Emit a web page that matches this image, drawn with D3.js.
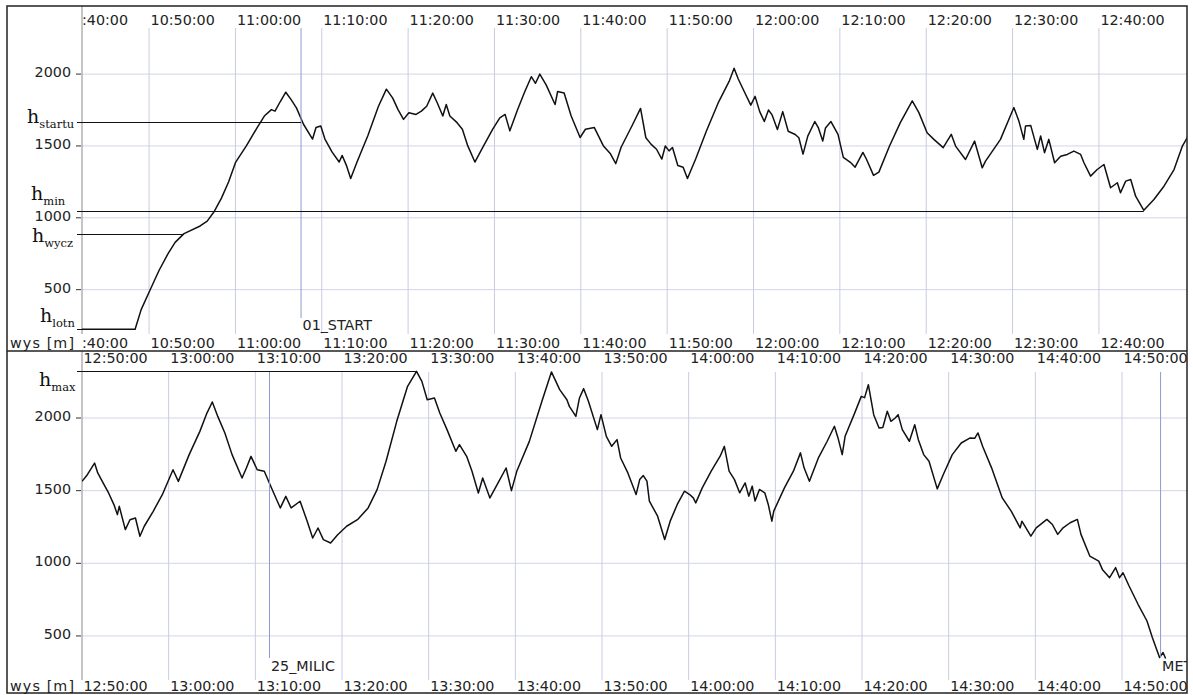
<!DOCTYPE html>
<html>
<head>
<meta charset="utf-8">
<script src="https://cdn.jsdelivr.net/npm/d3@7"></script>
<style>
body { margin: 0; background: #fff; }
text { font-family: "DejaVu Sans", sans-serif; fill: #222; }
</style>
</head>
<body>
<div id="chart"></div>
<script>
// altitude trace, first half (10:42 - 12:50)
var topTimes = ["10:42:00","10:48:23","10:49:05","10:50:07","10:51:10","10:52:11","10:53:01","10:54:03","10:55:55","10:56:44",
  "10:57:34","10:58:23","10:59:13","11:00:02","11:01:17","11:02:31","11:03:21","11:04:10","11:04:35","11:05:13",
  "11:05:50","11:06:27","11:07:04","11:07:53","11:08:56","11:09:20","11:09:53","11:10:22","11:11:12","11:12:01",
  "11:12:22","11:12:51","11:13:21","11:14:05","11:15:20","11:16:34","11:17:29","11:18:13","11:18:50","11:19:28",
  "11:20:05","11:20:55","11:21:32","11:22:09","11:22:51","11:23:23","11:24:01","11:24:25","11:24:50","11:25:40",
  "11:26:17","11:26:54","11:27:44","11:28:33","11:29:47","11:30:37","11:31:14","11:31:47","11:32:41","11:33:31",
  "11:34:16","11:34:45","11:35:15","11:35:59","11:37:01","11:37:19","11:38:04","11:38:53","11:39:55","11:40:32",
  "11:41:34","11:42:36","11:43:26","11:44:03","11:44:40","11:45:55","11:46:55","11:47:32","11:48:09","11:48:46",
  "11:49:23","11:49:47","11:50:13","11:50:37","11:51:14","11:51:51","11:52:21","11:53:18","11:54:32","11:55:58",
  "11:57:13","11:57:45","11:58:14","11:58:52","11:59:41","12:00:11","12:00:43","12:01:15","12:01:44","12:02:09",
  "12:02:46","12:03:23","12:04:01","12:04:50","12:05:15","12:05:44","12:06:17","12:07:06","12:07:31","12:08:01",
  "12:08:20","12:08:58","12:09:47","12:10:24","12:11:13","12:11:46","12:12:40","12:13:04","12:13:54","12:14:31",
  "12:15:45","12:17:00","12:18:23","12:19:09","12:20:06","12:20:53","12:21:58","12:22:54","12:23:24","12:24:33",
  "12:25:36","12:26:29","12:26:52","12:28:36","12:30:09","12:30:44","12:31:18","12:31:30","12:32:06","12:32:52",
  "12:33:15","12:33:42","12:34:12","12:34:52","12:35:34","12:36:20","12:37:06","12:37:53","12:38:16","12:39:02",
  "12:39:48","12:40:35","12:41:21","12:42:08","12:42:30","12:43:06","12:43:41","12:44:15","12:45:12","12:46:22",
  "12:47:32","12:48:42","12:49:40","12:50:14","12:50:30"];
var topAlt = [225,225,361,498,635,749,829,890,943,977,
  1046,1137,1251,1388,1502,1628,1708,1753,1742,1811,
  1874,1822,1765,1651,1548,1628,1639,1548,1457,1388,
  1434,1365,1274,1388,1571,1776,1895,1833,1753,1685,
  1731,1719,1742,1776,1868,1799,1708,1788,1708,1662,
  1616,1502,1388,1479,1616,1696,1719,1605,1753,1879,
  1982,1936,2000,1925,1788,1879,1868,1708,1559,1616,
  1628,1502,1445,1377,1491,1639,1761,1557,1511,1477,
  1409,1500,1466,1489,1364,1352,1273,1409,1602,1807,
  1955,2041,1966,1886,1784,1845,1739,1670,1750,1716,
  1614,1739,1602,1580,1557,1443,1568,1670,1625,1534,
  1625,1670,1580,1420,1386,1352,1455,1409,1295,1318,
  1500,1662,1813,1732,1592,1546,1488,1581,1499,1406,
  1534,1348,1394,1546,1767,1673,1546,1639,1643,1476,
  1569,1453,1546,1383,1429,1441,1464,1441,1383,1290,
  1336,1371,1209,1244,1174,1255,1267,1150,1052,1127,
  1220,1336,1499,1558,1590];

// altitude trace, second half (12:50 - 14:55)
var bottomTimes = ["12:50:00","12:50:37","12:51:27","12:51:49","12:52:26","12:53:04","12:53:41","12:54:05","12:54:18","12:55:00",
  "12:55:32","12:56:10","12:56:41","12:57:11","12:58:13","12:59:16","13:00:30","13:01:07","13:02:22","13:03:36",
  "13:04:25","13:05:02","13:05:40","13:06:29","13:07:19","13:08:28","13:08:58","13:09:30","13:10:13","13:11:02",
  "13:11:52","13:12:53","13:13:31","13:14:08","13:15:10","13:15:59","13:16:37","13:17:14","13:17:51","13:18:41",
  "13:19:30","13:20:32","13:21:47","13:23:01","13:24:03","13:25:05","13:26:19","13:27:34","13:28:36","13:29:13",
  "13:29:50","13:30:40","13:31:17","13:32:07","13:33:08","13:33:33","13:34:23","13:35:00","13:35:44","13:36:14",
  "13:37:04","13:38:06","13:38:56","13:39:33","13:40:10","13:41:37","13:43:04","13:44:10","13:45:07","13:45:57",
  "13:46:14","13:46:59","13:47:24","13:47:53","13:48:26","13:49:28","13:49:53","13:50:30","13:51:07","13:51:44",
  "13:52:09","13:52:59","13:53:56","13:54:21","13:54:46","13:55:11","13:55:28","13:56:25","13:57:14","13:57:52",
  "13:58:41","13:59:31","14:00:07","14:00:32","14:00:49","14:01:34","14:02:36","14:03:38","14:04:07","14:04:40",
  "14:05:17","14:05:53","14:06:31","14:06:56","14:07:20","14:07:40","14:08:10","14:08:47","14:09:11","14:09:36",
  "14:09:49","14:11:03","14:12:05","14:12:54","14:13:19","14:13:56","14:14:58","14:15:59","14:16:49","14:17:14",
  "14:17:43","14:18:03","14:19:05","14:19:55","14:20:18","14:20:44","14:21:21","14:21:58","14:22:24","14:22:55",
  "14:23:20","14:23:50","14:24:10","14:24:39","14:25:28","14:26:05","14:26:30","14:27:07","14:27:44","14:28:41",
  "14:29:23","14:30:25","14:31:27","14:32:29","14:33:00","14:33:23","14:33:55","14:34:57","14:36:11","14:37:13",
  "14:38:15","14:38:27","14:39:29","14:40:06","14:41:20","14:41:58","14:42:35","14:43:12","14:44:01","14:44:51",
  "14:45:16","14:46:17","14:47:19","14:47:44","14:48:34","14:49:16","14:49:43","14:50:07","14:50:49","14:51:51",
  "14:52:53","14:53:30","14:54:20","14:54:44","14:55:02"];
var bottomAlt = [1564,1610,1690,1622,1553,1484,1404,1335,1392,1232,
  1300,1312,1186,1255,1358,1472,1644,1564,1748,1908,
  2034,2110,2011,1897,1748,1587,1656,1736,1644,1633,
  1518,1381,1461,1381,1427,1289,1174,1243,1163,1140,
  1197,1255,1300,1381,1507,1702,1977,2218,2321,2252,
  2126,2138,2034,1920,1771,1817,1736,1633,1484,1587,
  1450,1564,1656,1500,1633,1839,2115,2317,2195,2126,
  2080,2011,2138,2202,2115,1920,2023,1874,1805,1851,
  1725,1622,1473,1576,1604,1565,1428,1324,1164,1290,
  1405,1496,1473,1450,1416,1519,1634,1737,1805,1634,
  1576,1485,1553,1462,1531,1428,1508,1485,1405,1290,
  1359,1519,1634,1760,1657,1565,1725,1840,1943,1863,
  1748,1874,2023,2149,2140,2229,2023,1931,1935,2046,
  1977,2000,2023,1920,1840,1954,1851,1748,1702,1512,
  1611,1748,1828,1863,1860,1897,1805,1657,1450,1359,
  1244,1290,1187,1244,1302,1267,1199,1244,1279,1302,
  1199,1050,1015,958,901,970,901,935,844,718,
  603,489,351,386,345];

var altTicks = [500, 1000, 1500, 2000];

// reference heights: subscript name, value [m], time where the line ends
var refNames = ["startu", "min", "wycz", "lotn", "max"];
var refValues = [1670, 1050, 885, 225, 2325];
var refEnds = ["11:07:36", "12:45:12", "10:53:55", "10:48:23", "13:28:36"];
var refPanel = [0, 0, 0, 0, 1];

// turnpoints
var markerNames = ["01_START", "25_MILIC", "MET"];
var markerTimes = ["11:07:36", "13:11:38", "14:54:27"];
var markerPanel = [0, 1, 1];

function init() {
    var w = 1193, h = 695;
    var left = 82, right = 1187;
    var fs = "14.3px";
    var parse = d3.timeParse("%H:%M:%S");
    var fmt = d3.timeFormat("%H:%M:%S");

    var svg = d3.select("#chart").append("svg")
        .attr("width", w).attr("height", h);

    var panels = [
        {times: topTimes, alt: topAlt, from: "10:42:14", to: "12:50:12",
         tickFrom: "10:40:00", tickTo: "12:40:00", y0: 361.5, y1: 2.25,
         top: 6, bottom: 351, gTop: 28, gBot: 334, labTop: 25, labBot: 348,
         mTop: 28, mBot: 318, mLab: 330},
        {times: bottomTimes, alt: bottomAlt, from: "12:50:00", to: "14:57:30",
         tickFrom: "12:50:00", tickTo: "14:50:00", y0: 708.6, y1: 345.35,
         top: 351, bottom: 693, gTop: 372, gBot: 680, labTop: 363, labBot: 691,
         mTop: 372, mBot: 658, mLab: 671}
    ];

    // label layout for the h reference names (x of "h", baseline offset from line)
    var refLayout = [{x: 27, dy: 0}, {x: 31, dy: -12}, {x: 32, dy: 7}, {x: 40, dy: -8}, {x: 39, dy: 14}];

    var defs = svg.append("defs");

    panels.forEach(function(p, i) {
        p.x = d3.scaleTime().domain([parse(p.from), parse(p.to)]).range([left, right]);
        p.y = d3.scaleLinear().domain([0, 2500]).range([p.y0, p.y1]);

        defs.append("clipPath").attr("id", "clip" + i)
            .append("rect").attr("x", left).attr("y", p.top)
            .attr("width", right - left).attr("height", p.bottom - p.top);

        var g = svg.append("g");
        var ticks = d3.timeMinute.every(10).range(parse(p.tickFrom), new Date(+parse(p.tickTo) + 1000));

        // horizontal grid
        g.selectAll(".hg").data(altTicks).enter().append("line")
            .attr("x1", left).attr("x2", right)
            .attr("y1", function(d) { return p.y(d); })
            .attr("y2", function(d) { return p.y(d); })
            .attr("stroke", "#d2d5e6").attr("stroke-width", 1);

        // vertical grid
        g.selectAll(".vg").data(ticks.filter(function(t) { return p.x(t) > left + 1; })).enter().append("line")
            .attr("x1", function(d) { return p.x(d); })
            .attr("x2", function(d) { return p.x(d); })
            .attr("y1", p.gTop).attr("y2", p.gBot)
            .attr("stroke", "#c9cce2").attr("stroke-width", 1);

        // left edge of plot
        g.append("line").attr("x1", left).attr("x2", left)
            .attr("y1", p.top).attr("y2", p.gBot)
            .attr("stroke", "#8a8a8a").attr("stroke-width", 1);

        // y ticks
        g.selectAll(".yt").data(altTicks).enter().append("line")
            .attr("x1", 76).attr("x2", 81)
            .attr("y1", function(d) { return p.y(d); })
            .attr("y2", function(d) { return p.y(d); })
            .attr("stroke", "#333");
        g.selectAll(".yl").data(altTicks).enter().append("text")
            .attr("x", 71).attr("y", function(d) { return p.y(d) + 3; })
            .attr("text-anchor", "end").style("font-size", fs)
            .text(function(d) { return d; });

        // time labels, top and bottom; a tick left of the plot shows only its tail
        [p.labTop, p.labBot].forEach(function(yy) {
            g.selectAll(null).data(ticks).enter().append("text")
                .attr("x", function(d) { return p.x(d) < left ? left : p.x(d) + 1.5; })
                .attr("y", yy)
                .style("font-size", fs)
                .text(function(d) { return p.x(d) < left ? fmt(d).slice(2) : fmt(d); });
        });

        g.append("text").attr("x", 10).attr("y", p.labBot)
            .attr("textLength", 64).attr("lengthAdjust", "spacing")
            .style("font-size", fs).text("wys [m]");

        // altitude curve
        var pts = p.times.map(function(t, k) { return {t: parse(t), v: p.alt[k]}; });
        var line = d3.line()
            .x(function(d) { return p.x(d.t); })
            .y(function(d) { return p.y(d.v); });
        g.append("path").datum(pts)
            .attr("clip-path", "url(#clip" + i + ")")
            .attr("d", line)
            .attr("fill", "none").attr("stroke", "#111")
            .attr("stroke-width", 1.5).attr("stroke-linejoin", "round");
    });

    // turnpoint markers
    markerNames.forEach(function(name, k) {
        var p = panels[markerPanel[k]];
        var mx = p.x(parse(markerTimes[k]));
        svg.append("line").attr("x1", mx).attr("x2", mx)
            .attr("y1", p.mTop).attr("y2", p.mBot)
            .attr("stroke", "#8f9ad0").attr("stroke-width", 1);
        svg.append("text").attr("clip-path", "url(#clip" + markerPanel[k] + ")")
            .attr("x", mx + 1.5).attr("y", p.mLab)
            .style("font-size", fs).text(name);
    });

    // reference heights
    refNames.forEach(function(name, k) {
        var p = panels[refPanel[k]];
        var ly = Math.round(p.y(refValues[k])) + 0.5;
        svg.append("line").attr("x1", 77).attr("x2", p.x(parse(refEnds[k])))
            .attr("y1", ly).attr("y2", ly)
            .attr("stroke", "#111").attr("stroke-width", 1);
        var t = svg.append("text")
            .attr("x", refLayout[k].x).attr("y", ly + refLayout[k].dy)
            .style("font-family", "'DejaVu Serif', serif").style("fill", "#111");
        t.append("tspan").style("font-size", "19px").text("h");
        t.append("tspan").attr("dy", 5).style("font-size", "11.5px").text(name);
    });

    // frame and divider
    svg.append("rect").attr("x", 7).attr("y", 6)
        .attr("width", right - 7).attr("height", 687)
        .attr("fill", "none").attr("stroke", "#222").attr("stroke-width", 1.5);
    svg.append("line").attr("x1", 7).attr("x2", right)
        .attr("y1", 351).attr("y2", 351)
        .attr("stroke", "#222").attr("stroke-width", 1.5);
}

window.onload = init;
</script>
</body>
</html>
